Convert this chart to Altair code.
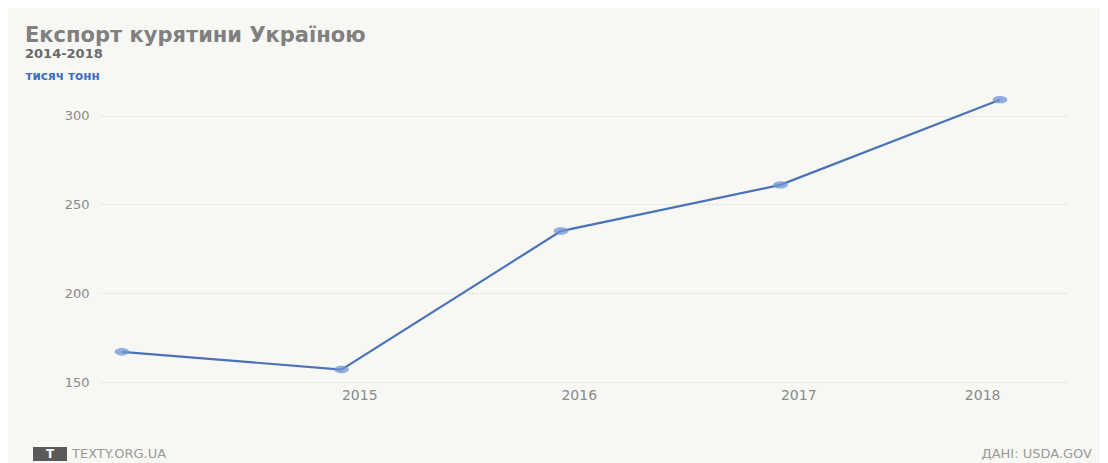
import altair as alt
import pandas as pd

years = [2014, 2015, 2016, 2017, 2018]
export_kt = [167, 157, 235, 261, 309]
y_ticks = [150, 200, 250, 300]
x_ticks = [2015, 2016, 2017, 2018]

df = pd.DataFrame({"year": years, "value": export_kt})

FONT = "DejaVu Sans"

x = alt.X("year:Q",
          scale=alt.Scale(domain=[2013.9, 2018.31], nice=False, zero=False),
          axis=alt.Axis(values=x_ticks, format="d", title=None, grid=False,
                        domain=False, ticks=False, labelPadding=6,
                        labelAlign={"condition": {"test": "datum.value == 2018", "value": "right"},
                                    "value": "left"},
                        labelFontSize=14, labelColor="#8a8a8a", labelFont=FONT))
y = alt.Y("value:Q",
          scale=alt.Scale(domain=[150, 315], nice=False, zero=False),
          axis=alt.Axis(values=y_ticks, title="тисяч тонн", titleAngle=0,
                        titleX=-75, titleY=-14, titleAlign="left",
                        titleBaseline="middle", titleColor="#3d6fc0",
                        titleFontSize=12, titleFontWeight="bold", titleFont=FONT,
                        grid=True, gridColor="#dcdcd6", gridDash=[2, 2],
                        domain=False, ticks=False, labelPadding=11,
                        labelFontSize=13, labelColor="#8a8a8a", labelFont=FONT))

line = alt.Chart(df).mark_line(color="#4a72b8", strokeWidth=2.2).encode(x=x, y=y)
ellipse = "M -1 0 A 1 0.5 0 1 0 1 0 A 1 0.5 0 1 0 -1 0 Z"
pts = alt.Chart(df).mark_point(filled=True, color="#6f95d6", size=220,
                               opacity=0.75, shape=ellipse).encode(x="year:Q", y="value:Q")

foot = pd.DataFrame({"t": ["TEXTY.ORG.UA"]})
box = alt.Chart(foot).mark_rect(color="#5a5a5a").encode(
    x=alt.value(-67), x2=alt.value(-33), y=alt.value(358), y2=alt.value(372))
tlet = alt.Chart(foot).mark_text(text="T", color="#ffffff", fontSize=12,
                                 fontWeight="bold", font=FONT).encode(
    x=alt.value(-50), y=alt.value(365))
left_txt = alt.Chart(foot).mark_text(text="TEXTY.ORG.UA", color="#9a9a9a",
                                     fontSize=13, align="left", font=FONT).encode(
    x=alt.value(-28), y=alt.value(365))
right_txt = alt.Chart(foot).mark_text(text="ДАНІ: USDA.GOV", color="#9a9a9a",
                                      fontSize=13, align="right", font=FONT).encode(
    x=alt.value(992), y=alt.value(365))

chart = alt.layer(line, pts, box, tlet, left_txt, right_txt).properties(
    width=968, height=293,
    autosize=alt.AutoSizeParams(type="none"),
    padding={"left": 92, "top": 81, "right": 32, "bottom": 82},
    background="#f7f7f4",
    title=alt.Title("Експорт курятини Україною", subtitle="2014-2018",
                    anchor="start", frame="group", dx=-75, offset=8,
                    fontSize=21, fontWeight="bold", color="#808080",
                    font=FONT, subtitleFont=FONT,
                    subtitleFontSize=13, subtitleColor="#6a6a6a",
                    subtitleFontWeight="bold", subtitlePadding=2),
).configure_view(stroke=None)

chart.save("out.html", embed_options={"renderer": "svg", "actions": False})
